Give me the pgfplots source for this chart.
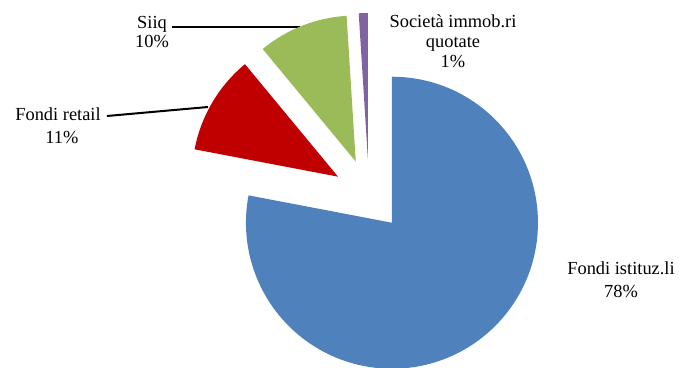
\documentclass[border=0pt]{standalone}
\usepackage{pgfplots}
\pgfplotsset{compat=1.18}
\usepackage{pgfplotstable}
\usepackage{fontspec}
\setmainfont{Liberation Serif}
\definecolor{cBlue}{HTML}{4F81BD}
\definecolor{cRed}{HTML}{C00000}
\definecolor{cGreen}{HTML}{9BBB59}
\definecolor{cPurple}{HTML}{8064A2}

\pgfplotstableread{
value col
78 cBlue
11 cRed
10 cGreen
1 cPurple
}\piedata

\begin{document}
\begin{tikzpicture}
\begin{axis}[at={(0,0)}, anchor=south west, x=0.5pt, y=0.5pt,
  xmin=0, xmax=679, ymin=0, ymax=368, hide axis, scale only axis, clip=false]
\coordinate (C) at (axis cs:369,173);
\tikzset{lbl/.style={anchor=base, inner sep=0pt, font=\fontsize{9.2}{10}\selectfont}}
% Siiq
\node[lbl] at (axis cs:152,339) {Siiq};
\node[lbl] at (axis cs:152,320) {10\%};
\draw[black, line width=1pt] (axis cs:172,341) -- (axis cs:300,341);
% Fondi retail
\node[lbl] at (axis cs:58,247) {Fondi retail};
\node[lbl] at (axis cs:62,224) {11\%};
\draw[black, line width=1pt] (axis cs:107,252) -- (axis cs:208,261);
% Societa
\node[lbl] at (axis cs:453,340) {Società immob.ri};
\node[lbl] at (axis cs:453,320) {quotate};
\node[lbl] at (axis cs:453,300) {1\%};
% Fondi istituz.li
\node[lbl] at (axis cs:621,93) {Fondi istituz.li};
\node[lbl] at (axis cs:621,70) {78\%};
\end{axis}
\pgfplotstablegetrowsof{\piedata}
\pgfmathtruncatemacro\N{\pgfplotsretval-1}
\gdef\cum{0}
\foreach \i in {0,...,\N} {
  \pgfplotstablegetelem{\i}{value}\of\piedata \let\v\pgfplotsretval
  \pgfplotstablegetelem{\i}{col}\of\piedata \let\c\pgfplotsretval
  \pgfmathsetmacro\sa{90-3.6*\cum}
  \pgfmathsetmacro\ea{90-3.6*(\cum+\v)}
  \pgfmathsetmacro\ma{(\sa+\ea)/2}
  \fill[fill=\c] ([shift={(\ma:18pt)}]C) -- ++(\sa:73pt) arc[start angle=\sa, end angle=\ea, radius=73pt] -- cycle;
  \pgfmathsetmacro\newcum{\cum+\v}
  \xdef\cum{\newcum}
}
\pgfresetboundingbox
\path (0,0) rectangle (339.5pt,184pt);
\end{tikzpicture}
\end{document}
